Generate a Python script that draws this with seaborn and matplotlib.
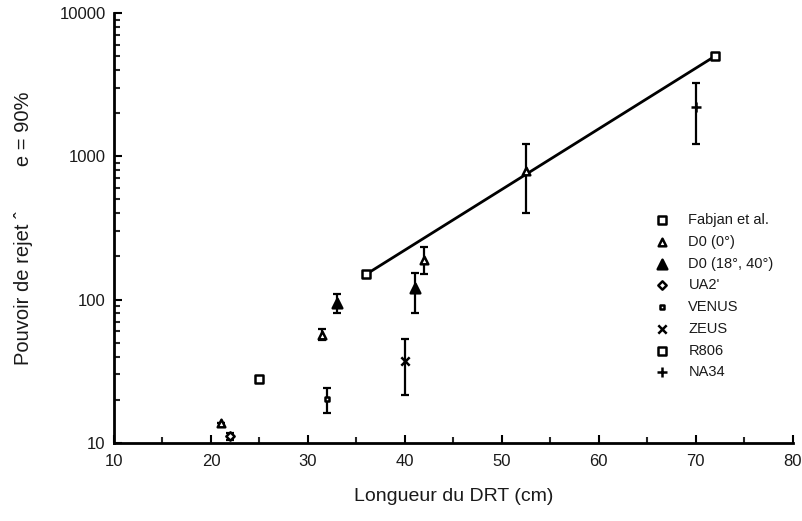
import numpy as np
import pandas as pd
import matplotlib
matplotlib.use("Agg")
import matplotlib.pyplot as plt
import seaborn as sns
from matplotlib.ticker import LogLocator, NullFormatter, MultipleLocator

sns.set_style("ticks")
plt.rcParams['font.family'] = ['Liberation Sans', 'DejaVu Sans']

# Detector length (cm), rejection power and error bar limits per experiment
fabjan_x = [36, 72]
fabjan_y = [150, 5000]

d0_0_x = [21, 31.5, 42, 52.5]
d0_0_y = [13.8, 57, 189, 790]
d0_0_lo = [13.8, 52, 150, 405]
d0_0_hi = [13.8, 62, 232, 1215]

d0_18_x = [33, 41]
d0_18_y = [95, 120]
d0_18_lo = [80, 81]
d0_18_hi = [110, 154]

ua2_x = [22]
ua2_y = [11.2]
ua2_lo = [10.5]
ua2_hi = [11.8]

venus_x = [32]
venus_y = [20.3]
venus_lo = [16.1]
venus_hi = [24.3]

zeus_x = [40]
zeus_y = [37.3]
zeus_lo = [21.6]
zeus_hi = [53]

r806_x = [25]
r806_y = [28]

na34_x = [70]
na34_y = [2220]
na34_lo = [1215]
na34_hi = [3270]

labels = ["Fabjan et al.", "D0 (0°)", "D0 (18°, 40°)", "UA2'",
          "VENUS", "ZEUS", "R806", "NA34"]

ink = "#1a1a1a"

fig = plt.figure(figsize=(8.03, 5.21), dpi=100)
ax = fig.add_axes([0.142, 0.150, 0.845, 0.825])

def errbars(x, y, lo, hi):
    y = np.asarray(y); lo = np.asarray(lo); hi = np.asarray(hi)
    ax.errorbar(x, y, yerr=[y - lo, hi - y], fmt="none", ecolor="black",
                elinewidth=1.6, capsize=3.2, capthick=1.6, zorder=2)

# Fabjan reference line
sns.lineplot(x=fabjan_x, y=fabjan_y, ax=ax, color="black", lw=2, zorder=1,
             legend=False)

errbars(d0_0_x, d0_0_y, d0_0_lo, d0_0_hi)
errbars(d0_18_x, d0_18_y, d0_18_lo, d0_18_hi)
errbars(ua2_x, ua2_y, ua2_lo, ua2_hi)
errbars(venus_x, venus_y, venus_lo, venus_hi)
errbars(zeus_x, zeus_y, zeus_lo, zeus_hi)
errbars(na34_x, na34_y, na34_lo, na34_hi)

series = [
    (fabjan_x, fabjan_y, "s", "white", 26),
    (d0_0_x, d0_0_y, "^", "white", 30),
    (d0_18_x, d0_18_y, "^", "black", 48),
    (ua2_x, ua2_y, "D", "white", 18),
    (venus_x, venus_y, "s", "white", 10),
    (zeus_x, zeus_y, "x", "black", 36),
    (r806_x, r806_y, "s", "white", 32),
    (na34_x, na34_y, "+", "black", 50),
]
for (x, y, m, fc, s), lab in zip(series, labels):
    sns.scatterplot(x=x, y=y, ax=ax, marker=m, s=s, color=fc,
                    edgecolor="black", linewidth=1.8, zorder=3, label=lab)

ax.set_yscale("log")
ax.set_xlim(10, 80)
ax.set_ylim(10, 10000)
ax.xaxis.set_major_locator(MultipleLocator(10))
ax.xaxis.set_minor_locator(MultipleLocator(5))
ax.yaxis.set_major_locator(LogLocator(base=10))
ax.yaxis.set_minor_locator(LogLocator(base=10, subs=np.arange(2, 10)))
ax.yaxis.set_minor_formatter(NullFormatter())
ax.set_yticks([10, 100, 1000, 10000])
ax.set_yticklabels(["10", "100", "1000", "10000"])

for side in ["top", "right"]:
    ax.spines[side].set_visible(False)
for side in ["left", "bottom"]:
    ax.spines[side].set_linewidth(2)
    ax.spines[side].set_color("black")
ax.tick_params(axis="both", which="major", direction="in", length=6, width=1.5,
               labelsize=12, pad=6, color="black", labelcolor=ink)
ax.tick_params(axis="both", which="minor", direction="in", length=4, width=1.5)
ax.tick_params(axis="x", which="major", pad=8)

ax.set_xlabel("Longueur du DRT (cm)", fontsize=14, labelpad=14, color=ink)
ax.set_ylabel("Pouvoir de rejet ˆ        e = 90%", fontsize=14.5, labelpad=19,
              color=ink)

leg = ax.legend(loc="upper left", bbox_to_anchor=(0.782, 0.548), frameon=False,
                fontsize=10.5, handletextpad=1.0, labelspacing=0.53,
                borderaxespad=0, handlelength=1.6)
for t in leg.get_texts():
    t.set_color(ink)
for h in leg.legend_handles:
    h.set_edgecolor("black")

fig.savefig("out.png", dpi=100)
